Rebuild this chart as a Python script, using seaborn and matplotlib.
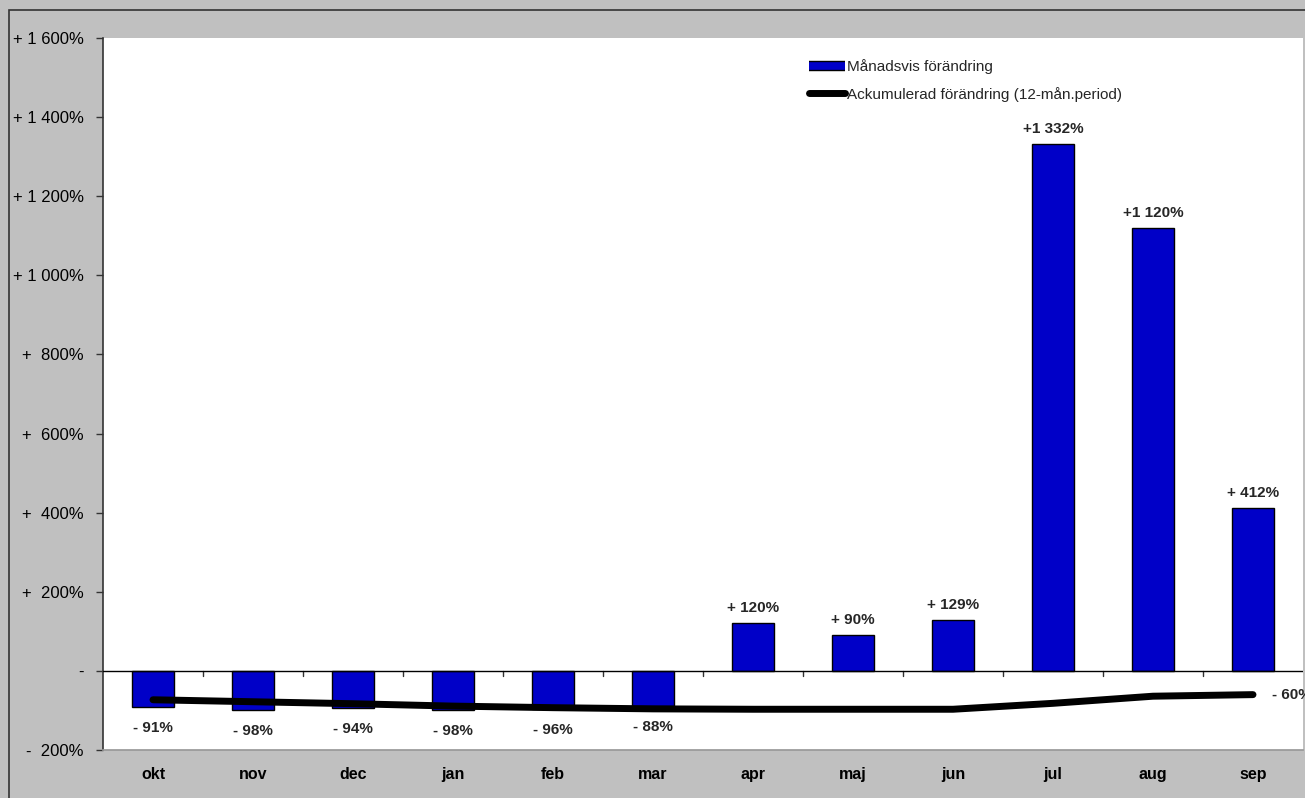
import matplotlib
matplotlib.use("Agg")
import matplotlib.pyplot as plt
import matplotlib.patches as mpatches
import matplotlib.patheffects as pe
from matplotlib.lines import Line2D
from matplotlib.ticker import FixedLocator
import numpy as np
import pandas as pd
import seaborn as sns

months = ["okt", "nov", "dec", "jan", "feb", "mar", "apr", "maj", "jun", "jul", "aug", "sep"]
monthly = [-91, -98, -94, -98, -96, -88, 120, 90, 129, 1332, 1120, 412]
cumulative = [-73, -78, -83, -89, -93, -96, -97, -97, -97, -82, -64, -60]
ytick_vals = [-200, 0, 200, 400, 600, 800, 1000, 1200, 1400, 1600]

sns.set_theme(style="white")
plt.rcParams["font.family"] = ["Liberation Sans", "DejaVu Sans"]

BG = "#c0c0c0"
BLUE = "#0000c8"

fig = plt.figure(figsize=(13.05, 7.98), dpi=100, facecolor=BG)
ax = fig.add_axes([103 / 1305, 48 / 798, 1200 / 1305, 712 / 798])
ax.set_facecolor("white")

df = pd.DataFrame({"month": months, "value": monthly})
sns.barplot(data=df, x="month", y="value", color=BLUE, edgecolor="black",
            linewidth=1.0, width=0.42, saturation=1, ax=ax, zorder=2)

ld = pd.DataFrame({"x": np.arange(len(months)), "y": cumulative})
sns.lineplot(data=ld, x="x", y="y", color="black", linewidth=5, ax=ax,
             zorder=3, solid_capstyle="round")

ax.set_xlim(-0.5, len(months) - 0.5)
ax.set_ylim(-200, 1600)


def num(v):
    return f"{abs(v):,}".replace(",", " ") + "%"


def ylab(v):
    if v == 0:
        return "-"
    if v < 0:
        return "-  " + num(v)
    if v < 1000:
        return "+  " + num(v)
    return "+ " + num(v)


ax.yaxis.set_major_locator(FixedLocator(ytick_vals))
ax.set_yticklabels([ylab(v) for v in ytick_vals], fontsize=12, color="black")
ax.tick_params(axis="y", which="major", direction="out", length=5, width=1,
               color="#333333", left=True, pad=9)

ax.set_xticks(range(len(months)))
ax.set_xticklabels(months, fontsize=11.5, fontweight="bold", color="black")
ax.tick_params(axis="x", which="major", length=0, pad=12)
ax.set_xlabel("")
ax.set_ylabel("")

# category separator ticks hanging from zero line
for i in range(1, len(months)):
    ax.plot([i - 0.5, i - 0.5], [0, -13], color="#333333", lw=1, zorder=4)
ax.axhline(0, color="black", lw=1, zorder=4)

for s in ["top", "right"]:
    ax.spines[s].set_visible(False)
ax.spines["left"].set_color("#333333")
ax.spines["bottom"].set_color("#999999")
ax.spines["left"].set_linewidth(1.2)

for i, v in enumerate(monthly):
    if v >= 1000:
        ax.annotate("+" + num(v), (i, v), xytext=(0, 6), textcoords="offset points",
                    ha="center", va="bottom", fontsize=11, fontweight="bold")
    elif v >= 0:
        ax.annotate("+ " + num(v), (i, v), xytext=(0, 6), textcoords="offset points",
                    ha="center", va="bottom", fontsize=11, fontweight="bold")
    else:
        ax.annotate("- " + num(v), (i, v), xytext=(0, -10), textcoords="offset points",
                    ha="center", va="top", fontsize=11, fontweight="bold")

ax.annotate("- " + num(cumulative[-1]), (len(months) - 1, cumulative[-1]), xytext=(14, 0),
            textcoords="offset points", ha="left", va="center", fontsize=11,
            fontweight="bold", annotation_clip=False)

bar_handle = Line2D([], [], color=BLUE, lw=5.5, solid_capstyle="butt",
                    path_effects=[pe.Stroke(linewidth=7.5, foreground="black"), pe.Normal()])
line_handle = Line2D([], [], color="black", lw=5, solid_capstyle="round")
leg = ax.legend([bar_handle, line_handle],
                ["Månadsvis förändring", "Ackumulerad förändring (12-mån.period)"],
                loc="upper left", bbox_to_anchor=(0.5765, 0.99), frameon=False,
                fontsize=11, handlelength=2.4, handletextpad=0.1, labelspacing=0.85)

# outer chart border
fig.patches.append(mpatches.Rectangle((9 / 1305, -0.1), 1.2, (788 / 798) + 0.1,
                                      transform=fig.transFigure, fill=False,
                                      edgecolor="#333333", lw=1.2, zorder=0))

fig.savefig("out.png", dpi=100, facecolor=BG)
